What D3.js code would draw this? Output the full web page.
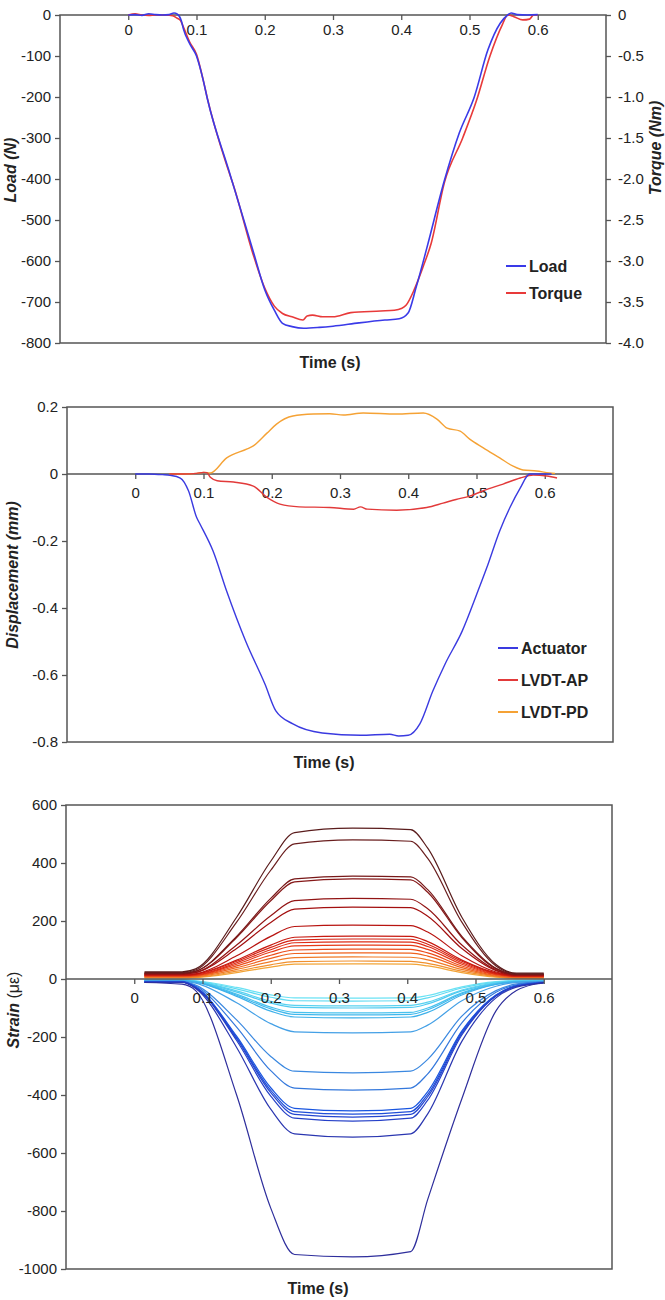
<!DOCTYPE html>
<html>
<head>
<meta charset="utf-8">
<script src="https://cdn.jsdelivr.net/npm/d3@7"></script>
<style>
body { margin: 0; background: #fff; }
text { font-family: "Liberation Sans", Arial, sans-serif; fill: #222; }
</style>
</head>
<body>
<div id="chart"></div>
<script>
// ---- data ----
const timeTicks = [0, 0.1, 0.2, 0.3, 0.4, 0.5, 0.6]
const loadTicks = [0, -100, -200, -300, -400, -500, -600, -700, -800]
const torqueTicks = [0, -0.5, -1, -1.5, -2, -2.5, -3, -3.5, -4]
const dispTicks = [0.2, 0, -0.2, -0.4, -0.6, -0.8]
const strainTicks = [600, 400, 200, 0, -200, -400, -600, -800, -1000]

// chart 1
const loadTime = [0, 0.01, 0.02, 0.03, 0.04, 0.05, 0.06, 0.067, 0.072, 0.078, 0.081, 0.09, 0.1, 0.11, 0.116, 0.147, 0.155, 0.183, 0.2, 0.214, 0.226, 0.24, 0.257, 0.28, 0.3, 0.338, 0.376, 0.397, 0.41, 0.422, 0.438, 0.463, 0.485, 0.507, 0.527, 0.545, 0.556, 0.561, 0.57, 0.585, 0.6]
const loadValues = [0, 1, -1, 3, 1, 0, 1, 5, 2, -15, -35, -70, -100, -160, -205, -377, -421, -576, -670, -720, -752, -760, -764, -762, -759, -751, -744, -741, -727, -663, -565, -405, -288, -200, -85, -20, 0, 5, 1, 0, 1]
const torqueTime = [0, 0.01, 0.02, 0.03, 0.04, 0.055, 0.065, 0.072, 0.076, 0.081, 0.09, 0.1, 0.11, 0.116, 0.147, 0.155, 0.183, 0.2, 0.214, 0.226, 0.24, 0.256, 0.262, 0.27, 0.285, 0.3, 0.326, 0.37, 0.39, 0.4, 0.407, 0.419, 0.432, 0.444, 0.463, 0.49, 0.51, 0.53, 0.548, 0.556, 0.565, 0.578, 0.588, 0.594, 0.6]
const torqueValues = [0, 0.015, 0, -0.005, 0, 0, -0.01, -0.04, -0.06, -0.15, -0.33, -0.48, -0.8, -1.02, -1.9, -2.1, -2.92, -3.33, -3.55, -3.64, -3.68, -3.72, -3.67, -3.66, -3.68, -3.68, -3.63, -3.61, -3.6, -3.58, -3.54, -3.35, -3.07, -2.78, -2.05, -1.5, -1.05, -0.5, -0.12, 0, -0.02, -0.06, -0.05, 0, 0]

// chart 2
const actTime = [0, 0.02, 0.04, 0.051, 0.066, 0.078, 0.09, 0.095, 0.114, 0.134, 0.162, 0.19, 0.206, 0.231, 0.274, 0.33, 0.373, 0.386, 0.4, 0.417, 0.436, 0.454, 0.479, 0.502, 0.515, 0.534, 0.549, 0.564, 0.578, 0.6, 0.61]
const actValues = [0, 0, -0.002, -0.004, -0.012, -0.05, -0.13, -0.15, -0.23, -0.35, -0.5, -0.627, -0.707, -0.746, -0.773, -0.78, -0.777, -0.782, -0.78, -0.746, -0.648, -0.567, -0.469, -0.35, -0.28, -0.17, -0.1, -0.042, 0, 0, 0]
const apTime = [0.05, 0.07, 0.09, 0.1, 0.105, 0.11, 0.12, 0.144, 0.173, 0.193, 0.212, 0.24, 0.285, 0.32, 0.33, 0.34, 0.383, 0.427, 0.451, 0.47, 0.49, 0.51, 0.539, 0.564, 0.583, 0.603, 0.618]
const apValues = [0, 0, 0.002, 0.005, 0.004, -0.01, -0.02, -0.024, -0.036, -0.07, -0.09, -0.098, -0.1, -0.105, -0.098, -0.105, -0.108, -0.1, -0.087, -0.076, -0.066, -0.05, -0.03, -0.012, -0.003, -0.006, -0.012]
const pdTime = [0.05, 0.07, 0.09, 0.1, 0.11, 0.134, 0.164, 0.173, 0.193, 0.207, 0.231, 0.261, 0.285, 0.305, 0.334, 0.383, 0.422, 0.442, 0.457, 0.476, 0.49, 0.51, 0.534, 0.553, 0.568, 0.588, 0.607, 0.615]
const pdValues = [0, 0, 0.002, 0.005, 0.003, 0.048, 0.075, 0.084, 0.122, 0.149, 0.173, 0.179, 0.18, 0.176, 0.182, 0.179, 0.182, 0.164, 0.137, 0.128, 0.104, 0.078, 0.048, 0.024, 0.012, 0.009, 0.003, 0.002]

// chart 3
const strainTime = [0.015, 0.07, 0.09, 0.15, 0.2, 0.235, 0.32, 0.405, 0.43, 0.48, 0.53, 0.56, 0.6]
const strainPositive = [
	[25, 25, 35, 213, 406, 505, 520, 515, 451, 213, 50, 20, 20],
	[22, 22, 31, 196, 375, 466, 480, 475, 416, 196, 45, 18, 18],
	[20, 20, 27, 147, 278, 345, 355, 352, 308, 147, 37, 16, 16],
	[19, 19, 26, 143, 270, 335, 345, 342, 299, 143, 35, 15, 15],
	[18, 18, 23, 117, 218, 270, 278, 275, 242, 117, 31, 14, 14],
	[17, 17, 22, 105, 195, 241, 248, 246, 216, 105, 29, 14, 14],
	[15, 15, 18, 80, 147, 181, 186, 184, 162, 80, 24, 12, 12],
	[14, 14, 17, 65, 117, 144, 148, 147, 129, 65, 21, 11, 11],
	[13, 13, 16, 61, 109, 134, 138, 137, 120, 61, 19, 10, 10],
	[12, 12, 14, 56, 101, 125, 128, 127, 112, 56, 18, 10, 10],
	[11, 11, 13, 51, 93, 114, 117, 116, 102, 51, 16, 9, 9],
	[10, 10, 12, 45, 82, 100, 103, 102, 90, 45, 15, 8, 8],
	[8, 8, 10, 39, 71, 88, 90, 89, 79, 39, 12, 6, 6],
	[7, 7, 8, 33, 60, 74, 76, 75, 66, 33, 10, 5, 5],
	[5, 5, 6, 27, 49, 60, 62, 61, 54, 27, 8, 4, 4],
	[4, 4, 5, 22, 41, 51, 52, 51, 45, 22, 6, 3, 3]
]
const strainNegative = [
	[-12, -18, -40, -400, -790, -950, -958, -940, -760, -413, -110, -40, -12],
	[-12, -12, -33, -236, -449, -534, -545, -534, -465, -215, -65, -28, -14],
	[-11, -11, -30, -212, -404, -480, -490, -480, -418, -193, -59, -25, -13],
	[-11, -11, -30, -206, -392, -467, -476, -467, -406, -188, -58, -25, -13],
	[-10, -10, -28, -202, -384, -457, -466, -457, -398, -183, -56, -24, -12],
	[-10, -10, -28, -197, -375, -446, -455, -446, -388, -179, -55, -23, -12],
	[-9, -9, -24, -166, -316, -376, -383, -376, -327, -151, -46, -20, -11],
	[-8, -8, -21, -141, -267, -318, -324, -318, -277, -128, -40, -17, -10],
	[-7, -7, -14, -82, -154, -182, -186, -182, -159, -75, -25, -12, -9],
	[-6, -6, -11, -60, -111, -131, -134, -131, -115, -55, -19, -10, -8],
	[-6, -6, -11, -56, -103, -122, -124, -122, -106, -51, -18, -10, -8],
	[-5, -5, -9, -52, -97, -115, -117, -115, -100, -48, -16, -8, -7],
	[-5, -5, -9, -45, -83, -98, -100, -98, -86, -41, -15, -8, -6],
	[-4, -4, -8, -41, -77, -91, -93, -91, -80, -38, -13, -7, -5],
	[-4, -4, -7, -34, -63, -75, -76, -75, -65, -31, -11, -6, -5],
	[-3, -3, -6, -29, -55, -65, -66, -65, -57, -27, -9, -5, -4]
]

// ---- styles ----
const positiveColors = ['#5a1c1c', '#6a1e1e', '#781818', '#861818', '#921414', '#a30f0f', '#b81410', '#c81a10', '#d42212', '#de2c16', '#e63a18', '#ec4c1a', '#ef621e', '#f07a26', '#f0902e', '#f2a436']
const negativeColors = ['#2e2e9c', '#2a36b0', '#2540c8', '#2446d0', '#1f4ed8', '#1a56e0', '#3478dc', '#3a88e0', '#44a0e6', '#3cb0ea', '#40b8ec', '#48c2ee', '#50caf0', '#58d2f0', '#60daf2', '#6ae2f4']
const axisColor = '#555'
const fontFamily = '"Liberation Sans", Arial, sans-serif'

let svg = d3.select('#chart')
	.append('svg')
	.attr('width', 665)
	.attr('height', 1300)

let hyphen = d => String(d)

function styleAxis(g) {
	g.select('.domain').remove()
	g.attr('font-family', fontFamily).attr('font-size', 15)
	g.selectAll('line').attr('stroke', axisColor).attr('stroke-width', 1.3)
	g.selectAll('text').attr('fill', '#333')
}

function box(x, y) {
	let [x0, x1] = x.range()
	let [y1, y0] = y.range()
	svg.append('rect')
		.attr('x', x0).attr('y', y0)
		.attr('width', x1 - x0).attr('height', y1 - y0)
		.attr('fill', 'none')
		.attr('stroke', axisColor)
		.attr('stroke-width', 1.5)
}

function zeroLine(x, y) {
	svg.append('line')
		.attr('x1', x.range()[0]).attr('x2', x.range()[1])
		.attr('y1', y(0)).attr('y2', y(0))
		.attr('stroke', axisColor)
		.attr('stroke-width', 1.5)
}

function timeAxis(x, y, pad) {
	svg.append('g')
		.attr('transform', `translate(0,${y(0)})`)
		.call(d3.axisBottom(x).tickValues(timeTicks).tickSize(5).tickPadding(pad).tickFormat(hyphen))
		.call(styleAxis)
}

function leftAxis(x, y, ticks, fmt) {
	svg.append('g')
		.attr('transform', `translate(${x.range()[0]},0)`)
		.call(d3.axisLeft(y).tickValues(ticks).tickSize(5).tickPadding(4).tickFormat(fmt))
		.call(styleAxis)
}

function yTitle(x, y, parts, rot) {
	let t = svg.append('text')
		.attr('transform', `translate(${x},${y}) rotate(${rot || -90})`)
		.attr('text-anchor', 'middle')
		.attr('font-size', 16)
	parts.forEach(p => {
		t.append('tspan')
			.attr('font-weight', p.bold ? 'bold' : 'normal')
			.attr('font-style', p.italic ? 'italic' : 'normal')
			.text(p.text)
	})
}

function xTitle(x, y) {
	svg.append('text')
		.attr('x', x).attr('y', y)
		.attr('text-anchor', 'middle')
		.attr('font-size', 16)
		.attr('font-weight', 'bold')
		.text('Time (s)')
}

function series(xs, ys, x, y, color, width) {
	let line = d3.line()
		.x(d => x(d[0]))
		.y(d => y(d[1]))
		.curve(d3.curveMonotoneX)
	svg.append('path')
		.datum(xs.map((t, i) => [t, ys[i]]))
		.attr('d', line)
		.attr('fill', 'none')
		.attr('stroke', color)
		.attr('stroke-width', width)
		.attr('stroke-linejoin', 'round')
}

function legend(items, lx, ly, gap) {
	items.forEach((it, i) => {
		let yy = ly + i * gap
		svg.append('line')
			.attr('x1', lx).attr('x2', lx + 20)
			.attr('y1', yy).attr('y2', yy)
			.attr('stroke', it.color)
			.attr('stroke-width', 2)
		svg.append('text')
			.attr('x', lx + 23).attr('y', yy)
			.attr('dy', '0.35em')
			.attr('font-size', 16)
			.attr('font-weight', 'bold')
			.text(it.label)
	})
}

// ---- chart 1: load and torque ----
{
	let x = d3.scaleLinear().domain([-0.1, 0.7]).range([60, 606])
	let y = d3.scaleLinear().domain([-800, 0]).range([343, 15])
	let yT = d3.scaleLinear().domain([-4, 0]).range([343, 15])

	box(x, y)
	timeAxis(x, y, 4)
	leftAxis(x, y, loadTicks, hyphen)
	svg.append('g')
		.attr('transform', `translate(${x.range()[1]},0)`)
		.call(d3.axisRight(yT).tickValues(torqueTicks).tickSize(5).tickPadding(7)
			.tickFormat(d => d === 0 ? '0' : d.toFixed(1)))
		.call(styleAxis)

	series(torqueTime, torqueValues, x, yT, '#e83a3a', 1.6)
	series(loadTime, loadValues, x, y, '#3a3ae8', 1.6)

	yTitle(16, 170, [{ text: 'Load (N)', bold: true, italic: true }])
	yTitle(661, 148, [{ text: 'Torque (Nm)', bold: true, italic: true }])
	xTitle(330, 368)
	legend([{ label: 'Load', color: '#3a3ae8' }, { label: 'Torque', color: '#e83a3a' }], 506, 266, 27)
}

// ---- chart 2: displacement ----
{
	let x = d3.scaleLinear().domain([-0.1, 0.7]).range([67, 613])
	let y = d3.scaleLinear().domain([-0.8, 0.2]).range([742, 407])

	box(x, y)
	zeroLine(x, y)
	timeAxis(x, y, 8)
	leftAxis(x, y, dispTicks, hyphen)

	series(pdTime, pdValues, x, y, '#f5a235', 1.4)
	series(apTime, apValues, x, y, '#e23a3a', 1.4)
	series(actTime, actValues, x, y, '#3a3ae0', 1.4)

	yTitle(18, 575, [{ text: 'Displacement (mm)', bold: true, italic: true }])
	xTitle(324, 768)
	legend([
		{ label: 'Actuator', color: '#3a3ae0' },
		{ label: 'LVDT-AP', color: '#e23a3a' },
		{ label: 'LVDT-PD', color: '#f5a235' }
	], 498, 648, 32)
}

// ---- chart 3: strain ----
{
	let x = d3.scaleLinear().domain([-0.1, 0.7]).range([66, 612])
	let y = d3.scaleLinear().domain([-1000, 600]).range([1269, 805])

	box(x, y)

	strainNegative.slice().reverse().forEach((vals, i) => {
		series(strainTime, vals, x, y, negativeColors[strainNegative.length - 1 - i], 1.2)
	})
	strainPositive.slice().reverse().forEach((vals, i) => {
		series(strainTime, vals, x, y, positiveColors[strainPositive.length - 1 - i], 1.2)
	})

	zeroLine(x, y)
	timeAxis(x, y, 8)
	leftAxis(x, y, strainTicks, hyphen)

	yTitle(19, 1010, [{ text: 'Strain', bold: true, italic: true }, { text: ' (με)' }])
	xTitle(318, 1294)
}
</script>
</body>
</html>
